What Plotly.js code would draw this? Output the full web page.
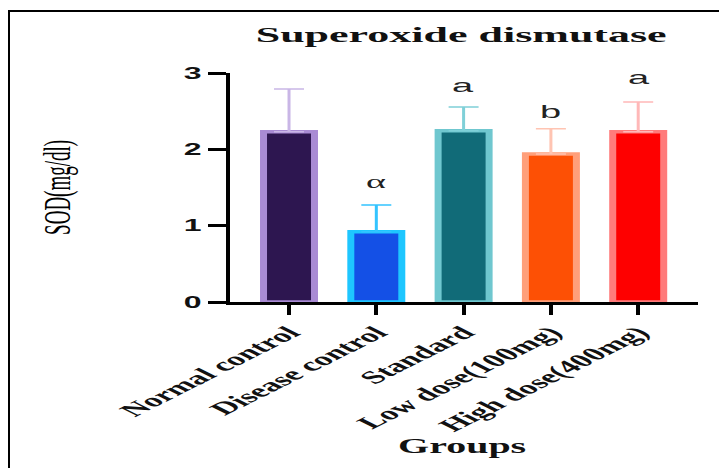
<!DOCTYPE html>
<html>
<head>
<meta charset="utf-8">
<script src="https://cdn.plot.ly/plotly-3.0.1.min.js"></script>
<style>
  html, body { margin: 0; padding: 0; background: #fff; overflow: hidden; }
  #frame { position: absolute; left: 8px; top: 10px; width: 900px; height: 700px;
           border-left: 2px solid #000; border-top: 2px solid #000; }
  #wrap { position: absolute; left: 0; top: 0; width: 360px; height: 468px;
          transform: scaleX(2); transform-origin: 0 0; }
  #chart { width: 360px; height: 468px; }
</style>
</head>
<body>
<div id="frame"></div>
<div id="wrap"><div id="chart"></div></div>
<script>
// ---- data ----
const categories = ['Normal control', 'Disease control', 'Standard', 'Low dose(100mg)', 'High dose(400mg)'];
const sodMeans   = [2.23, 0.92, 2.245, 1.94, 2.23];
const sodSD      = [0.56, 0.35, 0.31, 0.33, 0.39];
const sigLabels  = ['', 'α', 'a', 'b', 'a'];
const sigLabelY  = [0, 1.585, 2.84, 2.49, 2.94];

// ---- styles ----
const fillColors  = ['#2d1650', '#1450e6', '#116b78', '#fd5005', '#fe0000'];
const edgeColors  = ['#a98bd4', '#1ec6ff', '#6fc7cf', '#ff9f7a', '#ff7b7b'];
const errColors   = ['#c9b6e6', '#33c4ff', '#7fd0d8', '#ffc4b2', '#ffb8b8'];

const serif = 'Liberation Serif, Times New Roman, serif';
const sans  = 'Liberation Sans, Arial, sans-serif';

const traces = categories.map((c, i) => ({
  type: 'bar',
  x: [c],
  y: [sodMeans[i]],
  width: 0.584,
  marker: { color: fillColors[i], line: { color: edgeColors[i], width: 3.5 } },
  error_y: { type: 'data', symmetric: false, array: [sodSD[i]], arrayminus: [0],
             color: errColors[i], thickness: 1.5, width: 7.5 },
  showlegend: false,
  hoverinfo: 'x+y'
}));

const annotations = [];
categories.forEach((c, i) => {
  if (!sigLabels[i]) return;
  annotations.push({
    x: c, y: sigLabelY[i], xref: 'x', yref: 'y',
    text: sigLabels[i], showarrow: false, yanchor: 'middle', xanchor: 'center',
    font: { family: sigLabels[i] === 'α' ? serif : sans, size: 19, color: '#222' }
  });
});
annotations.push({
  text: 'SOD(mg/dl)', xref: 'paper', yref: 'paper', x: -0.37, y: 0.5,
  xanchor: 'center', yanchor: 'middle', textangle: -90, showarrow: false,
  font: { family: serif, size: 19, color: '#000' }
});
annotations.push({
  text: 'Groups', xref: 'paper', yref: 'paper', x: 0.4947, y: -0.633,
  xanchor: 'center', yanchor: 'middle', showarrow: false,
  font: { family: serif, size: 20, color: '#111', weight: 'bold' }
});

const layout = {
  width: 360, height: 468,
  margin: { l: 115, r: 11, t: 73, b: 166 },
  paper_bgcolor: 'rgba(0,0,0,0)', plot_bgcolor: 'rgba(0,0,0,0)',
  barmode: 'overlay',
  title: {
    text: 'Superoxide dismutase',
    font: { family: serif, size: 22, color: '#111', weight: 'bold' },
    xref: 'container', x: 0.6405, xanchor: 'center',
    yref: 'container', y: 0.927, yanchor: 'middle'
  },
  xaxis: {
    type: 'category',
    range: [-0.676, 4.685],
    showline: true, linecolor: '#000', linewidth: 3,
    ticks: 'outside', ticklen: 10, tickwidth: 2, tickcolor: '#000',
    tickangle: -45,
    tickfont: { family: serif, size: 18, color: '#111', weight: 'bold' },
    showgrid: false, zeroline: false, fixedrange: true
  },
  yaxis: {
    range: [0, 3],
    tickvals: [0, 1, 2, 3],
    showline: true, linecolor: '#000', linewidth: 2,
    ticks: 'outside', ticklen: 9, tickwidth: 3, tickcolor: '#000',
    tickfont: { family: sans, size: 16, color: '#111', weight: 'bold' },
    showgrid: false, zeroline: false, fixedrange: true
  },
  annotations: annotations
};

Plotly.newPlot('chart', traces, layout, { displayModeBar: false, staticPlot: true });
</script>
</body>
</html>
